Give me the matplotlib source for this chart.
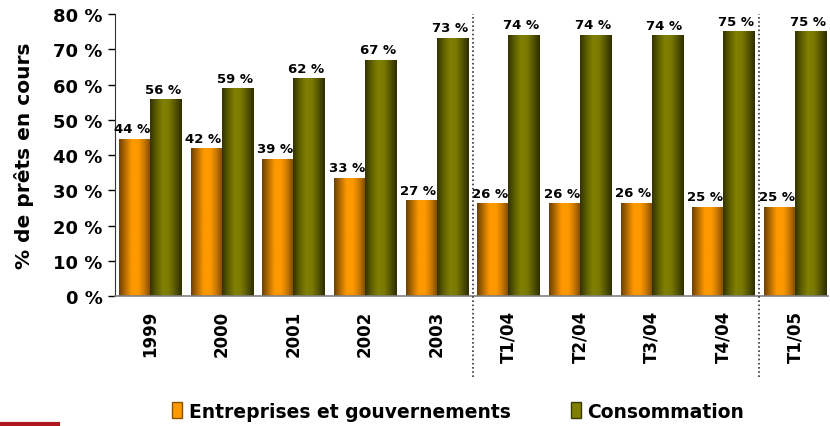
import numpy as np
import matplotlib
matplotlib.use('Agg')
import matplotlib.pyplot as plt
from matplotlib.colors import LinearSegmentedColormap
from matplotlib.patches import Patch
from matplotlib.lines import Line2D

# Data
periodes = ['1999', '2000', '2001', '2002', '2003', 'T1/04', 'T2/04', 'T3/04', 'T4/04', 'T1/05']
entreprises = [44.4, 41.8, 38.7, 33.4, 27.0, 26.2, 26.2, 26.3, 25.2, 25.2]
consommation = [55.6, 58.8, 61.6, 66.8, 73.0, 73.9, 73.9, 73.8, 74.9, 74.9]
series_noms = ['Entreprises et gouvernements', 'Consommation']

orange_cmap = LinearSegmentedColormap.from_list(
    'orange', ['#6e4000', '#b86e00', '#ff9900', '#ff9900', '#c97800', '#7a4800'])
olive_cmap = LinearSegmentedColormap.from_list(
    'olive', ['#333300', '#5e5e00', '#808000', '#7a7a00', '#555500', '#2e2e00'])

fig = plt.figure(figsize=(8.3, 4.27), dpi=100)
ax = fig.add_axes([0.1386, 0.304, 0.859, 0.661])

x = np.arange(len(periodes))
w = 0.435
bars1 = ax.bar(x - w / 2, entreprises, w, color='#ff9900', zorder=1)
bars2 = ax.bar(x + w / 2, consommation, w, color='#808000', zorder=1)

grad = np.linspace(0, 1, 64).reshape(1, -1)
for bars, cmap in [(bars1, orange_cmap), (bars2, olive_cmap)]:
    for p in bars:
        x0, y0 = p.get_x(), p.get_y()
        ax.imshow(grad, extent=[x0, x0 + p.get_width(), y0, y0 + p.get_height()],
                  aspect='auto', cmap=cmap, zorder=2, interpolation='bilinear')

for bars, vals in [(bars1, entreprises), (bars2, consommation)]:
    for p, v in zip(bars, vals):
        ax.annotate(f'{v:.0f} %', (p.get_x() + p.get_width() / 2, v),
                    xytext=(-2, 3), textcoords='offset points',
                    ha='center', va='bottom', fontsize=9.5, fontweight='bold')

ax.set_xlim(-0.49, 9.46)
ax.set_ylim(0, 80)
ax.set_yticks(range(0, 81, 10))
ax.set_yticklabels([f'{t} %' for t in range(0, 81, 10)], fontsize=13, fontweight='bold')
ax.set_xticks(x)
ax.set_xticklabels(periodes, rotation=90, fontsize=12, fontweight='bold')
ax.tick_params(axis='x', length=0, pad=10)
ax.tick_params(axis='y', length=5, width=1, direction='out', pad=4)
ax.set_ylabel('% de prêts en cours', fontsize=14.5, fontweight='bold', labelpad=14)

for s in ['top', 'right']:
    ax.spines[s].set_visible(False)
ax.spines['left'].set_color('#333333')
ax.spines['bottom'].set_color('#808080')
ax.spines['bottom'].set_linewidth(1.2)

for xv in [4.5, 8.5]:
    ax.axvline(xv, ymin=-0.287, ymax=1.0, color='#333333', linestyle=(0, (1, 1.5)),
               linewidth=1.2, clip_on=False, zorder=3)

handles = [Patch(facecolor='#ff9900', edgecolor='#8a5200'),
           Patch(facecolor='#808000', edgecolor='#3a3a00')]
fig.legend(handles, series_noms, loc='center', bbox_to_anchor=(0.552, 0.035), ncol=2,
           frameon=False, handlelength=0.55, handleheight=0.9, handletextpad=0.35,
           columnspacing=3.2, prop={'weight': 'bold', 'size': 13.5})

fig.add_artist(Line2D([0, 0.07], [0.004, 0.004], color='#b0161e', linewidth=3,
                      transform=fig.transFigure))

fig.savefig('out.png', dpi=100)
